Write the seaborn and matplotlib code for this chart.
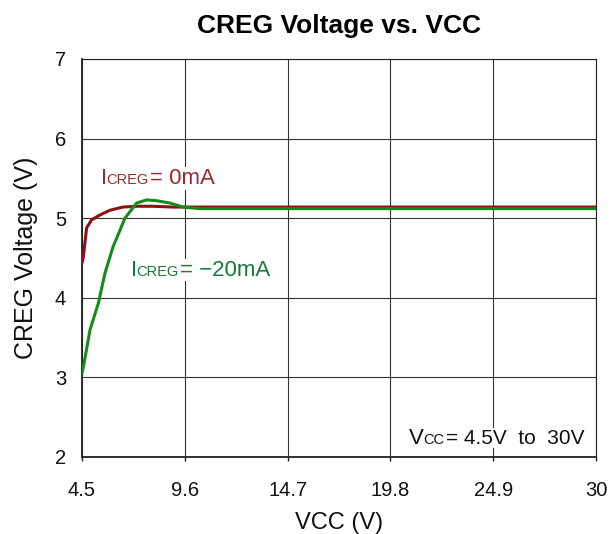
import matplotlib
matplotlib.use("Agg")
import matplotlib.pyplot as plt
import seaborn as sns
import pandas as pd

# Data
vcc_0ma = [4.5, 4.56, 4.73, 4.98, 5.39, 5.89, 6.53, 7.21, 8.0, 9.0, 10.0, 15.0, 20.0, 25.0, 30.0]
creg_0ma = [4.44, 4.5, 4.88, 4.98, 5.04, 5.10, 5.14, 5.15, 5.15, 5.14, 5.14, 5.14, 5.14, 5.14, 5.14]
vcc_20ma = [4.5, 4.56, 4.9, 5.31, 5.64, 6.04, 6.63, 7.21, 7.71, 8.2, 8.87, 9.51, 10.35, 15.0, 20.0, 25.0, 30.0]
creg_20ma = [3.05, 3.12, 3.6, 3.93, 4.31, 4.64, 5.0, 5.19, 5.23, 5.22, 5.19, 5.14, 5.12, 5.12, 5.12, 5.12, 5.12]
x_ticks = [4.5, 9.6, 14.7, 19.8, 24.9, 30]
x_tick_labels = ["4.5", "9.6", "14.7", "19.8", "24.9", "30"]
y_ticks = [2, 3, 4, 5, 6, 7]

sns.set_theme(style="white")
plt.rcParams['font.family'] = ['Liberation Sans', 'DejaVu Sans']

fig = plt.figure(figsize=(6.1, 5.34), dpi=100)
ax = fig.add_axes([82/610, 1-457/534, (596-82)/610, (457-59)/534])

red = "#8A1212"
green = "#148C1A"
df0 = pd.DataFrame({"x": vcc_0ma, "y": creg_0ma})
df1 = pd.DataFrame({"x": vcc_20ma, "y": creg_20ma})
sns.lineplot(data=df0, x="x", y="y", ax=ax, color=red, lw=2.2, sort=False, zorder=3)
sns.lineplot(data=df1, x="x", y="y", ax=ax, color=green, lw=2.2, sort=False, zorder=4)

ax.set_xlim(4.5, 30)
ax.set_ylim(2, 7)
ax.set_xticks(x_ticks)
ax.set_xticklabels(x_tick_labels)
ax.set_yticks(y_ticks)
ax.grid(True, color="#333333", lw=0.8)
for s in ax.spines.values():
    s.set_color("#222222")
    s.set_linewidth(0.8)
ax.spines['left'].set_linewidth(1.3)
ax.spines['bottom'].set_linewidth(1.3)
ax.tick_params(axis='x', direction='out', length=3, width=1, color="#222222",
               labelsize=14.5, pad=14, bottom=True, labelcolor="#111111")
ax.tick_params(axis='y', length=0, labelsize=14.5, pad=11.5, left=True, labelcolor="#111111")
ax.set_xlabel("VCC (V)", fontsize=17, labelpad=9, color="#111111")
ax.set_ylabel("CREG Voltage (V)", fontsize=18, labelpad=12, color="#111111")
fig.text((82+596)/2/610, 1-33/534, "CREG Voltage vs. VCC", fontsize=19, fontweight='bold',
         ha='center', va='baseline', color="#000000")

fig.canvas.draw()
renderer = fig.canvas.get_renderer()

def rich_text(x, y, pieces, color):
    # pieces: list of (text, size, gap_px_before)
    box = dict(facecolor='white', edgecolor='none', pad=0.5)
    t0 = ax.text(x, y, pieces[0][0], fontsize=pieces[0][1], color=color, va='baseline',
                 ha='left', bbox=box, zorder=5)
    prev = t0
    for txt, size, gap in pieces[1:]:
        bb = prev.get_window_extent(renderer=renderer)
        xd, _ = ax.transData.inverted().transform((bb.x1 + gap, 0))
        prev = ax.text(xd, y, txt, fontsize=size, color=color, va='baseline', ha='left',
                       bbox=box, zorder=5)
    return prev

rich_text(5.45, 5.43, [("I", 16), ("CREG", 10.5, -1), ("= 0mA", 16, 1.5)], "#9A2A30")
rich_text(6.92, 4.28, [("I", 16), ("CREG", 10.5, -1), ("= \u221220mA", 16, 1.5)], "#17793C")
rich_text(20.7, 2.167, [("V", 16), ("CC", 10.5, 0), ("= 4.5V  to  30V", 15, 1.5)], "#111111")

fig.savefig("out.png", dpi=100)
